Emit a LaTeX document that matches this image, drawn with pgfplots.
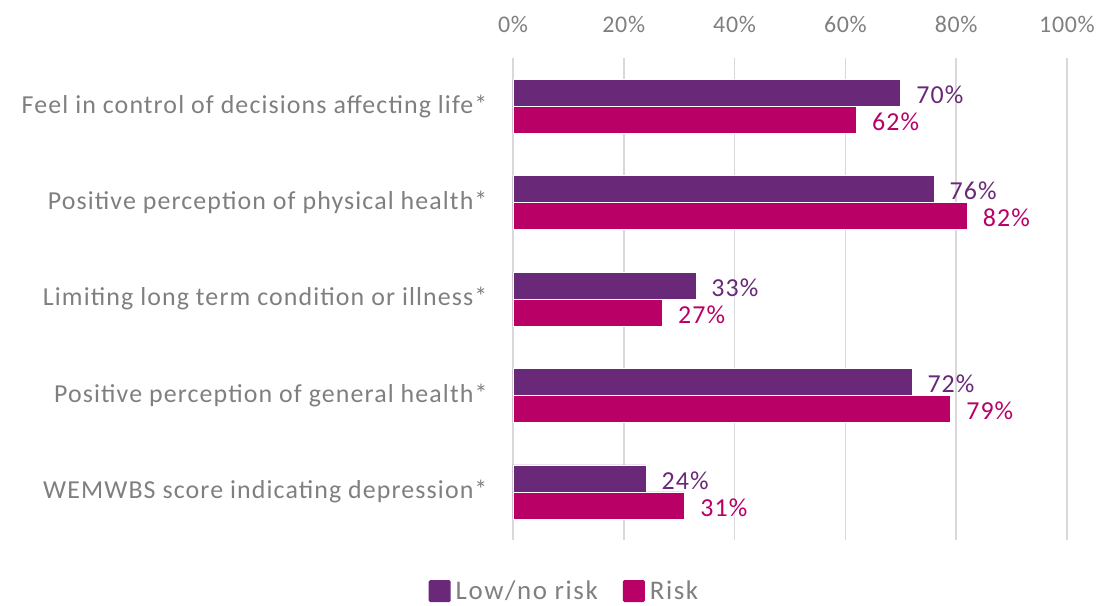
\documentclass[border=0pt]{standalone}
\usepackage{pgfplots}
\pgfplotsset{compat=1.18}
\usepackage{fontspec}
\setmainfont{Carlito}
\newfontfamily\lblfont{Carlito}[LetterSpace=4.3]
\newfontfamily\tickfont{Carlito}[LetterSpace=3]
\newfontfamily\legfont{Carlito}[LetterSpace=6]
\definecolor{lowc}{HTML}{692878}
\definecolor{riskc}{HTML}{B80066}
\definecolor{txtgray}{HTML}{7F7F7F}
\definecolor{gridc}{HTML}{D9D9D9}
\begin{document}
\begin{tikzpicture}
\useasboundingbox (-513bp,-66bp) rectangle (584bp,540bp);
\begin{axis}[
  at={(0,0)}, anchor=south west,
  scale only axis,
  width=554bp, height=482bp,
  xmin=0, xmax=100,
  ymin=-0.5, ymax=4.5,
  y dir=reverse,
  xbar, bar width=27bp,
  axis line style={draw=none},
  xtick={0,20,40,60,80,100},
  xticklabel={\pgfmathprintnumber{\tick}\%},
  xticklabel pos=top,
  xmajorgrids,
  major grid style={gridc, line width=1.6bp},
  major tick length=0pt,
  ytick={0,1,2,3,4},
  yticklabels={Feel in control of decisions affecting life*,
    Positive perception of physical health*,
    Limiting long term condition or illness*,
    Positive perception of general health*,
    WEMWBS score indicating depression*},
  xticklabel style={font=\tickfont\fontsize{24}{27}\selectfont, text=txtgray, yshift=22bp},
  yticklabel style={font=\lblfont\fontsize{26}{28}\selectfont, text=txtgray, xshift=-22bp},
  /pgf/number format/assume math mode=true,
  nodes near coords={\pgfmathprintnumber{\pgfplotspointmeta}\%},
  nodes near coords style={font=\lblfont\fontsize{26}{28}\selectfont, anchor=west, xshift=12bp, yshift=-2bp},
  point meta=explicit symbolic,
  legend style={at={(axis description cs:0.092,-0.106)}, anchor=center, draw=none, fill=none,
    legend columns=2, font=\legfont\fontsize{27}{28}\selectfont, text=txtgray,
    inner sep=0pt, nodes={inner sep=1pt},
    /tikz/every even column/.append style={column sep=24bp}},
  legend image code/.code={\fill[#1, draw=none, rounded corners=1.5bp] (0bp,-11bp) rectangle (22bp,11bp);},
  legend cell align=left,
  clip=false,
]
\addplot[fill=lowc, draw=white, line width=0.6bp, text=lowc, bar shift=13.5bp]
  coordinates {(70,0)[70] (76,1)[76] (33,2)[33] (72,3)[72] (24,4)[24]};
\addlegendentry{\hspace{4bp}Low/no risk}
\addplot[fill=riskc, draw=white, line width=0.6bp, text=riskc, bar shift=-13.5bp]
  coordinates {(62,0)[62] (82,1)[82] (27,2)[27] (79,3)[79] (31,4)[31]};
\addlegendentry{\hspace{4bp}Risk}
\end{axis}
\end{tikzpicture}
\end{document}
